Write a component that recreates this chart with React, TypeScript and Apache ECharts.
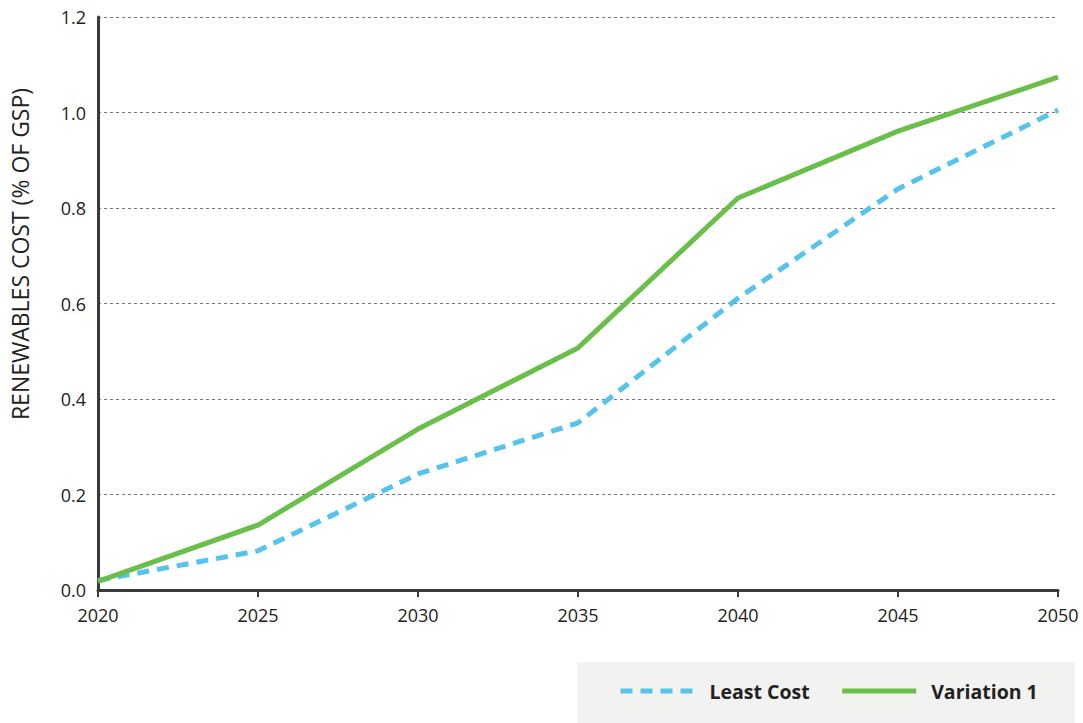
import React, { useEffect, useRef } from "react";
import * as echarts from "echarts";

const years = [2020, 2025, 2030, 2035, 2040, 2045, 2050];
const leastCost = [0.02, 0.082, 0.243, 0.35, 0.611, 0.84, 1.005];
const variation1 = [0.018, 0.136, 0.337, 0.507, 0.821, 0.961, 1.074];
const seriesNames = ["Least Cost", "Variation 1"];
const yAxisTitle = "RENEWABLES COST (% OF GSP)";

const FONT = "'Open Sans', Lato, sans-serif";

export default function App() {
  const ref = useRef<HTMLDivElement>(null);
  useEffect(() => {
    if (!ref.current) return;
    const chart = echarts.init(ref.current, null, { renderer: "svg" });
    chart.setOption({
      animation: false,
      grid: { left: 98, right: 25, top: 17, bottom: 133, containLabel: false },
      xAxis: {
        type: "value",
        min: 2020,
        max: 2050,
        interval: 5,
        axisLine: { show: true, lineStyle: { color: "#3a3a3a", width: 3 } },
        axisTick: { show: true, length: 7, lineStyle: { color: "#3a3a3a", width: 2 } },
        axisLabel: { color: "#222", fontSize: 18, fontFamily: FONT, margin: 16, formatter: (v: number) => String(v) },
        splitLine: { show: false },
      },
      yAxis: {
        type: "value",
        min: 0,
        max: 1.2,
        interval: 0.2,
        axisLine: { show: true, lineStyle: { color: "#3a3a3a", width: 3 } },
        axisTick: { show: false },
        axisLabel: { color: "#222", fontSize: 18, fontFamily: FONT, margin: 12, formatter: (v: number) => v.toFixed(1) },
        splitLine: { show: true, lineStyle: { color: "#777", type: [3, 3], width: 1 } },
      },
      legend: {
        left: 613,
        top: 676,
        itemWidth: 74,
        itemHeight: 14,
        itemGap: 30,
        data: seriesNames,
        itemStyle: { opacity: 0 },
        lineStyle: { width: 5 },
        textStyle: { color: "#222", fontSize: 19.5, fontWeight: "bold", fontFamily: FONT, padding: [0, 0, 0, 10] },
      },
      graphic: [
        {
          type: "rect",
          left: 577,
          top: 662,
          z: -10,
          shape: { width: 498, height: 61 },
          style: { fill: "#f2f2f0" },
        },
        {
          type: "text",
          x: 20,
          y: 254,
          rotation: Math.PI / 2,
          style: {
            text: yAxisTitle,
            fill: "#222",
            fontSize: 23,
            fontFamily: FONT,
            align: "center",
            verticalAlign: "middle",
          },
        },
      ],
      series: [
        {
          name: seriesNames[0],
          type: "line",
          data: years.map((y, i) => [y, leastCost[i]]),
          symbol: "none",
          lineStyle: { color: "#55c3ec", width: 5, type: [12, 8] },
          itemStyle: { color: "#55c3ec" },
        },
        {
          name: seriesNames[1],
          type: "line",
          data: years.map((y, i) => [y, variation1[i]]),
          symbol: "none",
          lineStyle: { color: "#6abf4b", width: 5 },
          itemStyle: { color: "#6abf4b" },
        },
      ],
    });
    return () => chart.dispose();
  }, []);
  return <div ref={ref} style={{ width: 1083, height: 723, position: "absolute", left: 0, top: 0 }} />;
}
